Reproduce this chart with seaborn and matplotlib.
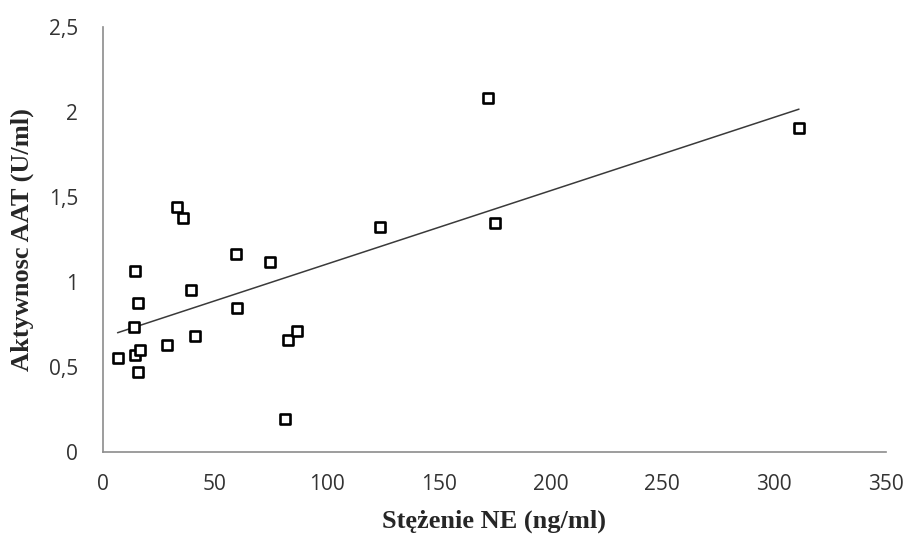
import numpy as np
import pandas as pd
import matplotlib
matplotlib.use("Agg")
import matplotlib.pyplot as plt
import seaborn as sns

# data
ne_conc = [6.4, 14.3, 15.5, 13.6, 14.3, 16.6, 15.5, 28.5, 33.1, 35.5, 39.4,
           41.2, 59.4, 60.0, 74.4, 81.4, 82.5, 86.5, 123.8, 172.1, 175.2, 311.2]
aat_act = [0.552, 1.065, 0.875, 0.734, 0.568, 0.597, 0.470, 0.629, 1.441,
           1.373, 0.952, 0.682, 1.163, 0.846, 1.118, 0.192, 0.658, 0.711,
           1.322, 2.080, 1.345, 1.904]
x_ticks = [0, 50, 100, 150, 200, 250, 300, 350]
y_ticks = [0, 0.5, 1, 1.5, 2, 2.5]
y_tick_labels = ["0", "0,5", "1", "1,5", "2", "2,5"]

df = pd.DataFrame({"NE": ne_conc, "AAT": aat_act})

sns.set_style("white")
plt.rcParams["font.family"] = ["Open Sans", "DejaVu Sans"]

fig = plt.figure(figsize=(9.09, 5.39), dpi=100)
ax = fig.add_axes([0.1136, 0.1614, 0.8608, 0.7894])

# linear trendline (OLS) + squares
sns.regplot(data=df, x="NE", y="AAT", ax=ax, scatter=False, ci=None,
            truncate=True, color="#3a3a3a", line_kws={"linewidth": 1.1})
sns.scatterplot(data=df, x="NE", y="AAT", ax=ax, marker="s", s=42,
                facecolor="white", edgecolor="black", linewidth=1.9, zorder=3)

ax.set_xlim(0, 350)
ax.set_ylim(0, 2.5)
ax.set_xticks(x_ticks)
ax.set_xticklabels([str(t) for t in x_ticks])
ax.set_yticks(y_ticks)
ax.set_yticklabels(y_tick_labels)

for side in ["top", "right"]:
    ax.spines[side].set_visible(False)
for side in ["left", "bottom"]:
    ax.spines[side].set_color("#8c8c8c")
    ax.spines[side].set_linewidth(1.2)

ax.tick_params(axis="both", direction="out", length=5, width=1.2,
               color="#8c8c8c", labelsize=15, labelcolor="#333333")
ax.tick_params(axis="x", pad=11)
ax.tick_params(axis="y", pad=13)

ax.set_xlabel("Stężenie NE (ng/ml)", family="Liberation Serif",
              weight="bold", size=19, labelpad=10)
ax.set_ylabel("Aktywnosc AAT (U/ml)", family="Liberation Serif",
              weight="bold", size=19)
ax.yaxis.set_label_coords(-0.088, 0.5)

fig.savefig("out.png", dpi=100, facecolor="white")
